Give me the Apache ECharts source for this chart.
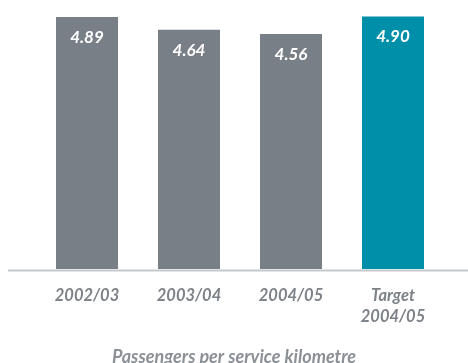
<!DOCTYPE html>
<html>
<head>
<meta charset="utf-8">
<script src="https://cdn.jsdelivr.net/npm/echarts@6/dist/echarts.min.js"></script>
<style>
  html, body { margin: 0; padding: 0; background: #ffffff; }
  #chart { width: 468px; height: 363px; }
</style>
</head>
<body>
<div id="chart"></div>
<script>
// Passengers per service kilometre, by year, with the 2004/05 target
const categories = ['2002/03', '2003/04', '2004/05', 'Target\n2004/05'];
const values = [4.89, 4.64, 4.56, 4.90];
const barColors = ['#787f87', '#787f87', '#787f87', '#008fa9'];

const FONT = 'Lato, "Open Sans", sans-serif';

const chart = echarts.init(document.getElementById('chart'), null, { renderer: 'canvas' });

chart.setOption({
  animation: false,
  backgroundColor: '#ffffff',
  title: {
    text: 'Passengers per service kilometre',
    left: 'center',
    top: 343,
    textStyle: {
      fontFamily: FONT,
      fontStyle: 'italic',
      fontWeight: 'bold',
      fontSize: 18,
      color: '#8b9096'
    }
  },
  grid: { left: 36, right: 24, top: 1, bottom: 94 },
  xAxis: {
    type: 'category',
    data: categories,
    axisLine: { show: false },
    axisTick: { show: false },
    axisLabel: {
      margin: 16,
      fontFamily: FONT,
      fontStyle: 'italic',
      fontWeight: 'bold',
      fontSize: 16.5,
      lineHeight: 21,
      color: '#7c8288'
    }
  },
  yAxis: {
    type: 'value',
    min: 0,
    max: 5.2,
    show: false,
    splitLine: { show: false }
  },
  graphic: [{
    type: 'line',
    shape: { x1: 8, y1: 270.5, x2: 468, y2: 270.5 },
    style: { stroke: '#c4c8cc', lineWidth: 2 },
    silent: true
  }],
  series: [{
    type: 'bar',
    barWidth: 62,
    data: values.map((v, i) => ({ value: v, itemStyle: { color: barColors[i] } })),
    label: {
      show: true,
      position: 'insideTop',
      distance: 12,
      formatter: (p) => p.value.toFixed(2),
      fontFamily: FONT,
      fontStyle: 'italic',
      fontWeight: 'bold',
      fontSize: 17,
      color: '#ffffff'
    }
  }]
});
</script>
</body>
</html>
